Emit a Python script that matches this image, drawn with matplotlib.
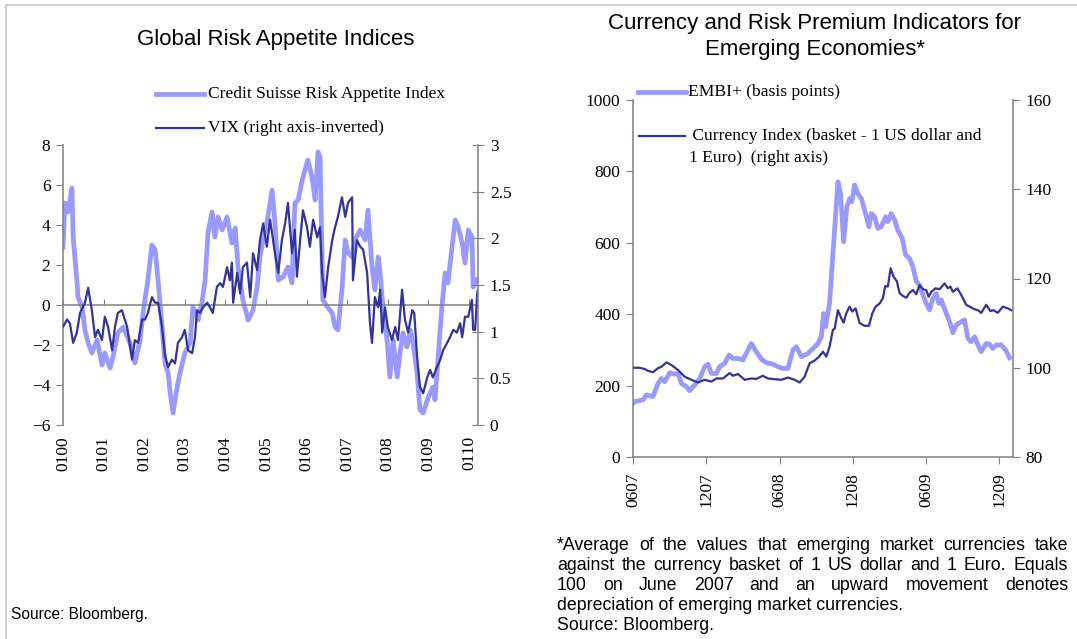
import matplotlib
matplotlib.use("Agg")
import matplotlib.pyplot as plt
import numpy as np
from matplotlib.lines import Line2D

W, H = 1077, 639
LIGHT = "#9999ff"
DARK = "#333399"
GRAY = "#808080"
SERIF = "Liberation Serif"
SANS = "Liberation Sans"

# --- left chart: Credit Suisse risk appetite index (left axis), decimal years
cs_t = [2000.00, 2000.05, 2000.12, 2000.22, 2000.25, 2000.34, 2000.37, 2000.47, 2000.54, 2000.62,
        2000.71, 2000.84, 2000.96, 2001.03, 2001.16, 2001.23, 2001.35, 2001.48, 2001.65, 2001.77,
        2001.90, 2001.97, 2002.09, 2002.19, 2002.27, 2002.34, 2002.44, 2002.51, 2002.59, 2002.64,
        2002.71, 2002.81, 2002.88, 2003.00, 2003.13, 2003.20, 2003.33, 2003.42, 2003.50, 2003.57,
        2003.67, 2003.74, 2003.82, 2003.92, 2004.04, 2004.16, 2004.24, 2004.31, 2004.43, 2004.56,
        2004.68, 2004.78, 2004.85, 2004.93, 2005.02, 2005.15, 2005.22, 2005.30, 2005.42, 2005.54,
        2005.64, 2005.71, 2005.79, 2005.89, 2005.96, 2006.03, 2006.13, 2006.21, 2006.28, 2006.33,
        2006.38, 2006.40, 2006.53, 2006.63, 2006.70, 2006.77, 2006.87, 2006.95, 2007.02, 2007.12,
        2007.19, 2007.32, 2007.44, 2007.51, 2007.61, 2007.68, 2007.76, 2007.81, 2007.88, 2007.98,
        2008.05, 2008.13, 2008.23, 2008.30, 2008.37, 2008.47, 2008.55, 2008.62, 2008.72, 2008.79,
        2008.87, 2008.97, 2009.04, 2009.11, 2009.16, 2009.24, 2009.33, 2009.41, 2009.48, 2009.58,
        2009.66, 2009.73, 2009.83, 2009.90, 2009.98, 2010.07, 2010.10, 2010.20]
cs_v = [2.9, 5.1, 4.65, 5.85, 3.4, 1.25, 0.4, -0.1, -1.25, -1.9,
        -2.4, -1.75, -3.0, -2.4, -3.15, -2.6, -1.4, -1.1, -1.9, -2.9,
        -1.75, -0.4, 1.25, 3.0, 2.75, 1.25, -1.1, -2.9, -3.4, -4.4,
        -5.4, -4.1, -3.4, -2.4, -1.9, -0.1, -0.75, 0.1, 1.25, 3.6,
        4.65, 3.4, 4.4, 3.75, 4.4, 3.1, 3.85, 1.9, 0.25, -0.75,
        -0.25, 0.9, 2.4, 3.25, 4.1, 5.75, 4.1, 1.25, 1.4, 1.9,
        1.1, 5.1, 5.25, 6.25, 6.75, 7.25, 6.4, 5.25, 7.65, 7.4,
        2.4, 0.25, -0.15, -0.4, -1.1, -1.25, 0.75, 3.25, 2.6, 2.4,
        3.25, 3.75, 3.25, 4.75, 1.9, 0.75, 2.4, 1.6, -0.1, -1.75,
        -3.6, -1.75, -3.6, -2.4, -1.4, -2.1, -1.25, -1.9, -3.4, -5.25,
        -5.4, -4.75, -4.4, -4.1, -4.75, -2.6, -0.1, 1.6, 1.1, 2.9,
        4.25, 3.9, 3.1, 2.1, 3.75, 3.4, 0.9, 1.25]

# VIX (right axis, inverted)
vix_t = [2000.00, 2000.10, 2000.17, 2000.25, 2000.34, 2000.42, 2000.54, 2000.62, 2000.71, 2000.79,
         2000.86, 2000.96, 2001.03, 2001.11, 2001.21, 2001.28, 2001.35, 2001.45, 2001.58, 2001.70,
         2001.77, 2001.85, 2001.95, 2002.02, 2002.09, 2002.19, 2002.27, 2002.34, 2002.44, 2002.51,
         2002.59, 2002.68, 2002.76, 2002.83, 2002.93, 2003.00, 2003.08, 2003.18, 2003.25, 2003.30,
         2003.37, 2003.45, 2003.55, 2003.62, 2003.69, 2003.79, 2003.87, 2003.94, 2004.04, 2004.11,
         2004.16, 2004.19, 2004.29, 2004.36, 2004.43, 2004.53, 2004.61, 2004.68, 2004.78, 2004.85,
         2004.93, 2005.02, 2005.10, 2005.22, 2005.30, 2005.39, 2005.47, 2005.54, 2005.64, 2005.71,
         2005.76, 2005.84, 2005.91, 2006.01, 2006.08, 2006.16, 2006.26, 2006.33, 2006.38, 2006.45,
         2006.53, 2006.63, 2006.70, 2006.77, 2006.87, 2006.95, 2007.02, 2007.12, 2007.14, 2007.24,
         2007.32, 2007.39, 2007.49, 2007.56, 2007.61, 2007.68, 2007.76, 2007.81, 2007.86, 2007.93,
         2008.00, 2008.10, 2008.18, 2008.25, 2008.35, 2008.42, 2008.50, 2008.60, 2008.65, 2008.72,
         2008.79, 2008.87, 2008.97, 2009.04, 2009.11, 2009.21, 2009.29, 2009.36, 2009.46, 2009.53,
         2009.61, 2009.70, 2009.78, 2009.83, 2009.90, 2009.98, 2010.07, 2010.10, 2010.15, 2010.20,
         2010.22]
vix_v = [1.05, 1.13, 1.09, 0.88, 0.99, 1.2, 1.31, 1.47, 1.23, 0.94,
         1.02, 0.91, 1.16, 1.05, 0.8, 1.05, 1.2, 1.23, 1.05, 0.7,
         0.91, 0.88, 1.13, 1.13, 1.2, 1.37, 1.31, 1.31, 1.05, 0.75,
         0.62, 0.7, 0.66, 0.88, 0.94, 1.02, 0.8, 0.77, 0.94, 1.23,
         1.2, 1.26, 1.31, 1.26, 1.2, 1.48, 1.52, 1.48, 1.69, 1.55,
         1.74, 1.31, 1.63, 1.41, 1.69, 1.74, 1.37, 1.84, 1.66, 1.98,
         2.16, 1.91, 2.2, 1.84, 1.63, 1.98, 2.16, 2.38, 1.84, 2.09,
         1.59, 1.98, 2.3, 2.12, 1.91, 2.2, 2.01, 2.12, 1.63, 1.37,
         1.69, 1.98, 2.12, 2.23, 2.44, 2.23, 2.38, 2.44, 1.55, 1.98,
         1.91, 1.88, 1.63, 1.09, 0.88, 1.37, 1.26, 1.45, 0.99, 1.26,
         1.05, 0.91, 1.05, 0.91, 1.45, 1.13, 0.99, 1.23, 1.2, 0.73,
         0.41, 0.34, 0.51, 0.59, 0.51, 0.62, 0.7, 0.8, 0.88, 0.94,
         1.02, 0.99, 1.09, 0.94, 1.16, 1.16, 1.34, 1.02, 1.02, 1.41,
         1.45]

left_ticks = ["0100", "0101", "0102", "0103", "0104", "0105",
              "0106", "0107", "0108", "0109", "0110"]

# --- right chart: EMBI+ (basis points) and currency index (right axis)
embi_t = [2007.417, 2007.428, 2007.485, 2007.508, 2007.553, 2007.587, 2007.610, 2007.633, 2007.667, 2007.701,
          2007.724, 2007.747, 2007.781, 2007.803, 2007.838, 2007.872, 2007.906, 2007.928, 2007.952, 2007.986,
          2008.008, 2008.042, 2008.072, 2008.099, 2008.133, 2008.167, 2008.224, 2008.258, 2008.293, 2008.327,
          2008.372, 2008.406, 2008.440, 2008.474, 2008.508, 2008.531, 2008.566, 2008.611, 2008.645, 2008.679,
          2008.702, 2008.717, 2008.731, 2008.758, 2008.781, 2008.797, 2008.815, 2008.833, 2008.854, 2008.876,
          2008.895, 2008.910, 2008.929, 2008.951, 2008.975, 2008.997, 2009.027, 2009.043, 2009.065, 2009.088,
          2009.111, 2009.141, 2009.156, 2009.179, 2009.202, 2009.224, 2009.254, 2009.277, 2009.304, 2009.327,
          2009.350, 2009.372, 2009.395, 2009.418, 2009.440, 2009.463, 2009.486, 2009.504, 2009.520, 2009.555,
          2009.577, 2009.600, 2009.623, 2009.657, 2009.679, 2009.702, 2009.725, 2009.748, 2009.770, 2009.793,
          2009.827, 2009.850, 2009.873, 2009.896, 2009.930, 2009.959, 2009.986]
embi_v = [150, 155, 160, 174, 169, 206, 220, 211, 236, 232,
          234, 206, 197, 186, 202, 220, 253, 260, 234, 234,
          253, 262, 286, 276, 276, 272, 318, 295, 274, 264,
          260, 253, 248, 248, 300, 309, 281, 290, 304, 318,
          337, 402, 365, 430, 570, 664, 771, 738, 603, 701,
          724, 715, 762, 738, 724, 692, 645, 682, 673, 640,
          645, 673, 659, 682, 664, 636, 612, 566, 556, 533,
          491, 482, 454, 430, 412, 444, 458, 430, 440, 402,
          379, 348, 370, 379, 384, 332, 323, 337, 314, 295,
          318, 316, 304, 314, 314, 300, 278]

cur_t = [2007.417, 2007.462, 2007.497, 2007.519, 2007.553, 2007.587, 2007.610, 2007.645, 2007.679, 2007.724,
         2007.769, 2007.815, 2007.860, 2007.906, 2007.952, 2007.986, 2008.031, 2008.076, 2008.099, 2008.133,
         2008.179, 2008.224, 2008.258, 2008.303, 2008.338, 2008.395, 2008.429, 2008.474, 2008.520, 2008.554,
         2008.588, 2008.622, 2008.656, 2008.690, 2008.713, 2008.736, 2008.758, 2008.781, 2008.793, 2008.815,
         2008.838, 2008.854, 2008.872, 2008.895, 2008.913, 2008.936, 2008.963, 2008.997, 2009.027, 2009.050,
         2009.072, 2009.100, 2009.122, 2009.138, 2009.156, 2009.175, 2009.195, 2009.218, 2009.236, 2009.258,
         2009.282, 2009.304, 2009.327, 2009.350, 2009.372, 2009.395, 2009.418, 2009.434, 2009.452, 2009.481,
         2009.509, 2009.543, 2009.566, 2009.582, 2009.600, 2009.630, 2009.657, 2009.691, 2009.725, 2009.748,
         2009.770, 2009.793, 2009.827, 2009.855, 2009.877, 2009.906, 2009.941, 2009.975, 2009.998]
cur_v = [100.0, 100.0, 99.7, 99.3, 99.0, 99.9, 100.2, 101.2, 100.6, 99.5,
         98.0, 97.3, 96.7, 97.3, 96.9, 97.6, 97.6, 98.8, 98.2, 98.6,
         97.3, 97.6, 97.5, 98.2, 97.6, 97.4, 97.3, 97.8, 97.3, 96.7,
         98.0, 101.0, 101.6, 102.6, 103.6, 102.5, 104.7, 108.5, 108.8, 112.9,
         111.1, 110.1, 112.2, 113.7, 112.6, 113.3, 110.0, 109.4, 109.4, 112.2,
         113.7, 114.4, 115.6, 118.3, 118.2, 122.3, 120.4, 119.3, 116.7, 116.1,
         115.7, 116.8, 117.4, 116.5, 118.5, 117.6, 117.4, 115.9, 117.0, 117.8,
         117.6, 118.9, 117.8, 118.2, 117.0, 117.8, 116.3, 114.1, 113.5, 113.1,
         112.9, 112.3, 114.1, 112.7, 112.9, 112.3, 113.7, 113.3, 112.9]

right_ticks = ["0607", "1207", "0608", "1208", "0609", "1209"]


def tick_pos(labels):
    # "MMYY" -> decimal year
    return [2000 + int(s[2:]) + (int(s[:2]) - 1) / 12 for s in labels]


def box(x0, y0, x1, y1):
    return [x0 / W, 1 - y1 / H, (x1 - x0) / W, (y1 - y0) / H]


def style_spines(ax, keep):
    for name, sp in ax.spines.items():
        sp.set_visible(name in keep)
        sp.set_color(GRAY)
        sp.set_linewidth(1.1)


fig = plt.figure(figsize=(W / 100, H / 100), dpi=100)

# ---------------- left chart
ax1 = fig.add_axes(box(63, 145, 478, 425))
ax1.plot(cs_t, cs_v, color=LIGHT, lw=3.4, solid_joinstyle="round")
ax1.set_xlim(2000, 2010.22)
ax1.set_ylim(-6, 8)
ax1.set_yticks(range(-6, 9, 2))
style_spines(ax1, ["left", "bottom"])
ax1.spines["bottom"].set_position(("data", 0))
ax1.set_xticks(tick_pos(left_ticks))
ax1.tick_params(axis="x", direction="in", length=4, color=GRAY, labelbottom=False)
ax1.tick_params(axis="y", direction="out", length=5, color=GRAY, pad=4,
                labelsize=12.5, labelfontfamily=SERIF)

sec = ax1.secondary_xaxis("bottom")
sec.set_xticks(tick_pos(left_ticks), left_ticks)
sec.spines["bottom"].set_visible(False)
sec.tick_params(length=0, pad=8, labelrotation=90, labelsize=12.5, labelfontfamily=SERIF)

ax1b = ax1.twinx()
ax1b.plot(vix_t, vix_v, color=DARK, lw=1.6, solid_joinstyle="round")
ax1b.set_ylim(0, 3)
ax1b.set_yticks(np.arange(0, 3.01, 0.5))
ax1b.set_yticklabels(["%g" % v for v in np.arange(0, 3.01, 0.5)])
style_spines(ax1b, ["right"])
ax1b.tick_params(axis="y", direction="inout", length=9, color=GRAY, pad=4,
                 labelsize=12.5, labelfontfamily=SERIF)

# ---------------- right chart
ax2 = fig.add_axes(box(633, 100, 1013, 457))
ax2.plot(embi_t, embi_v, color=LIGHT, lw=3.4, solid_joinstyle="round")
ax2.set_xlim(2007.417, 2010.01)
ax2.set_ylim(0, 1000)
ax2.set_yticks(range(0, 1001, 200))
style_spines(ax2, ["left", "bottom"])
ax2.set_xticks(tick_pos(right_ticks), right_ticks)
ax2.tick_params(axis="x", direction="out", length=5, color=GRAY, pad=6,
                labelrotation=90, labelsize=12.5, labelfontfamily=SERIF)
ax2.tick_params(axis="y", direction="out", length=5, color=GRAY, pad=4,
                labelsize=12.5, labelfontfamily=SERIF)

ax2b = ax2.twinx()
ax2b.plot(cur_t, cur_v, color=DARK, lw=1.6, solid_joinstyle="round")
ax2b.set_ylim(80, 160)
ax2b.set_yticks(range(80, 161, 20))
style_spines(ax2b, ["right"])
ax2b.tick_params(axis="y", direction="out", length=5, color=GRAY, pad=4,
                 labelsize=12.5, labelfontfamily=SERIF)

# ---------------- titles
fig.text(276 / W, 1 - 40 / H, "Global Risk Appetite Indices", ha="center", va="center",
         family=SANS, size=16)
fig.text(815 / W, 1 - 23 / H, "Currency and Risk Premium Indicators for", ha="center",
         va="center", family=SANS, size=16)
fig.text(815 / W, 1 - 49 / H, "Emerging Economies*", ha="center", va="center",
         family=SANS, size=16)

# ---------------- legends
def legend_entry(x0, x1, y, color, lw, label, tx):
    fig.add_artist(Line2D([x0 / W, x1 / W], [1 - y / H] * 2, color=color, lw=lw))
    fig.text(tx / W, 1 - y / H, label, va="center", family=SERIF, size=12.6)

legend_entry(156, 204, 94, LIGHT, 3.4, "Credit Suisse Risk Appetite Index", 208)
legend_entry(156, 204, 128, DARK, 1.6, "VIX (right axis-inverted)", 208)
legend_entry(638, 686, 92, LIGHT, 3.4, "EMBI+ (basis points)", 688)
legend_entry(639, 685, 136, DARK, 1.6, " Currency Index (basket - 1 US dollar and", 688)
fig.text(689 / W, 1 - 158 / H, "1 Euro)  (right axis)", va="center", family=SERIF, size=12.6)

# ---------------- notes
fig.text(11 / W, 1 - 614 / H, "Source: Bloomberg.", va="center", family=SANS, size=11.2)

note = ["*Average of the values that emerging market currencies take",
        "against the currency basket of 1 US dollar and 1 Euro. Equals",
        "100 on June 2007 and an upward movement denotes",
        "depreciation of emerging market currencies.",
        "Source: Bloomberg."]
note_y = [546, 566, 586, 605, 626]
renderer = fig.canvas.get_renderer()
for i, (line, y) in enumerate(zip(note, note_y)):
    if i >= 3:
        fig.text(557 / W, 1 - y / H, line, va="center", family=SANS, size=12.8)
        continue
    words = line.split()
    texts = [fig.text(0, 1 - y / H, w, va="center", family=SANS, size=12.8) for w in words]
    widths = [t.get_window_extent(renderer).width for t in texts]
    gap = (1068 - 557 - sum(widths)) / (len(words) - 1)
    x = 557
    for t, w in zip(texts, widths):
        t.set_x(x / W)
        x += w + gap

# thin frame on left/top edge
fig.add_artist(Line2D([6 / W, 6 / W], [0, 1 - 5 / H], color="#d4d0c8", lw=1.5))
fig.add_artist(Line2D([6 / W, 1], [1 - 5 / H, 1 - 5 / H], color="#d4d0c8", lw=1.5))

fig.savefig("out.png", dpi=100)
